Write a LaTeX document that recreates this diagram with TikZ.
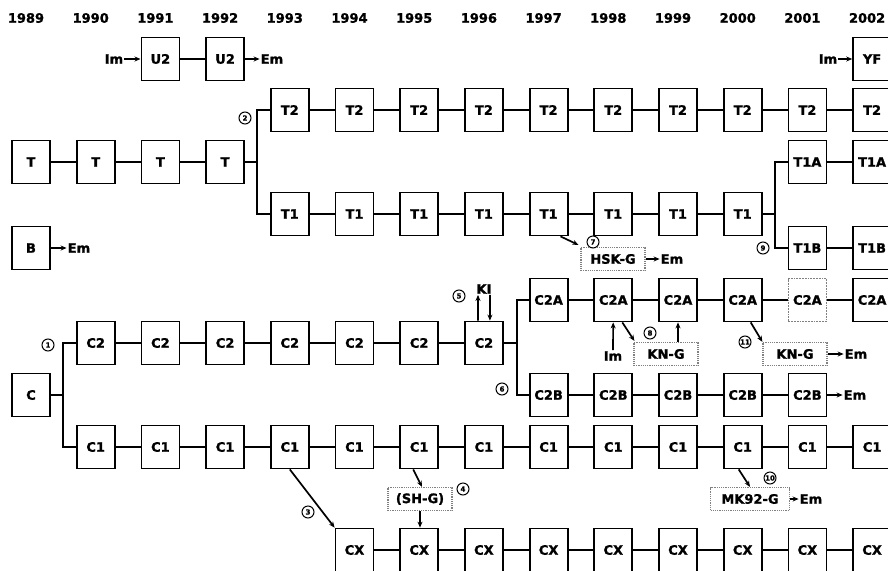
\documentclass[tikz,border=0pt]{standalone}
\usepackage{fontspec}
\setmainfont{DejaVu Sans}[BoldFeatures={FakeBold=1.2}]
\usetikzlibrary{arrows.meta,positioning}
\tikzset{
  yrbox/.style={draw,line width=1.8pt,minimum width=38pt,minimum height=43pt,inner sep=0pt,font=\fontsize{13}{15}\selectfont\bfseries},
  lostbox/.style={yrbox,draw=gray,densely dotted,line width=1.2pt},
  gene/.style={draw=gray,densely dotted,line width=1.2pt,minimum width=64pt,minimum height=23pt,inner sep=2pt,font=\fontsize{13}{15}\selectfont\bfseries},
  lbl/.style={inner sep=1pt,font=\fontsize{13}{15}\selectfont\bfseries},
  num/.style={circle,draw,line width=1pt,inner sep=0pt,minimum size=12pt,font=\fontsize{7}{8}\selectfont\bfseries},
  link/.style={line width=1.7pt},
  arr/.style={link,-{Stealth[length=6pt,width=5pt]}}
}
\newcommand{\boxrow}[5]{% name, label, y, first year, last year
  \foreach \yr in {#4,...,#5} {\node[yrbox] (#1-\yr) at ({31+64.7*(\yr-1989)},#3) {#2};}
  \foreach \yr [evaluate=\yr as \nx using int(\yr+1)] in {#4,...,#5} {\ifnum\yr<#5 \draw[link] (#1-\yr) -- (#1-\nx);\fi}
}

\begin{document}
\begin{tikzpicture}[x=1pt,y=-1pt]
  \useasboundingbox (0,0) rectangle (888,570);
  \foreach \yr in {1989,...,2002} {\node[lbl] (yr-\yr) at ({26+64.7*(\yr-1989)},18) {\yr};}

  % U2 and YF
  \boxrow{u2}{U2}{59}{1991}{1992}
  \node[lbl] (im-u2) at (114,59) {Im};
  \node[lbl] (em-u2) at (272,59) {Em};
  \draw[arr] (im-u2) -- (u2-1991);
  \draw[arr] (u2-1992) -- (em-u2);
  \boxrow{yf}{YF}{59}{2002}{2002}
  \node[lbl] (im-yf) at (828,59) {Im};
  \draw[arr] (im-yf) -- (yf-2002);

  % T lines
  \boxrow{t}{T}{162}{1989}{1992}
  \boxrow{t2}{T2}{110}{1993}{2002}
  \boxrow{t1}{T1}{214}{1993}{2000}
  \boxrow{t1a}{T1A}{162}{2001}{2002}
  \boxrow{t1b}{T1B}{248}{2001}{2002}
  \coordinate (sp2) at (257,162);
  \draw[link] (t-1992) -- (sp2);
  \draw[link] (t2-1993.west) -| (sp2) |- (t1-1993.west);
  \coordinate (sp9) at (775,214);
  \draw[link] (t1-2000) -- (sp9);
  \draw[link] (t1a-2001.west) -| (sp9) |- (t1b-2001.west);
  \node[gene] (hsk) at (613,259) {HSK-G};
  \node[lbl] (em-hsk) at (672,259) {Em};
  \draw[arr] ([xshift=-8pt]t1-1997.south east) -- ([xshift=-2pt,yshift=2pt]hsk.north west);
  \draw[arr] (hsk) -- (em-hsk);

  % B
  \boxrow{b}{B}{248}{1989}{1989}
  \node[lbl] (em-b) at (79,248) {Em};
  \draw[arr] (b-1989) -- (em-b);

  % C lines
  \boxrow{c}{C}{395}{1989}{1989}
  \boxrow{c2}{C2}{343}{1990}{1996}
  \boxrow{c1}{C1}{447}{1990}{2002}
  \coordinate (sp1) at (63,395);
  \draw[link] (c-1989) -- (sp1);
  \draw[link] (c2-1990.west) -| (sp1) |- (c1-1990.west);
  \node[lbl] (ki) at (484,289) {KI};
  \draw[arr] ([xshift=-6pt]c2-1996.north) -- ([xshift=-6pt]ki.south);
  \draw[arr] ([xshift=6pt]ki.south) -- ([xshift=6pt]c2-1996.north);

  \boxrow{c2a}{C2A}{300}{1997}{2000}
  \node[lostbox] (c2a-2001) at ({31+64.7*12},300) {C2A};
  \node[yrbox] (c2a-2002) at ({31+64.7*13},300) {C2A};
  \draw[link] (c2a-2000) -- (c2a-2001) -- (c2a-2002);
  \boxrow{c2b}{C2B}{395}{1997}{2001}
  \coordinate (sp6) at (517,343);
  \draw[link] (c2-1996) -- (sp6);
  \draw[link] (c2a-1997.west) -| (sp6) |- (c2b-1997.west);
  \node[lbl] (em-c2b) at (855,395) {Em};
  \draw[arr] (c2b-2001) -- (em-c2b);

  \node[lbl] (im-c2a) at (613,356) {Im};
  \draw[arr] (im-c2a) -- (c2a-1998);
  \node[gene] (kng1) at (666,354) {KN-G};
  \draw[arr] ([xshift=9pt]c2a-1998.south) -- ([xshift=1pt,yshift=1pt]kng1.north west);
  \draw[arr] (kng1.north -| c2a-1999.south) -- (c2a-1999.south);
  \node[gene] (kng2) at (795,354) {KN-G};
  \node[lbl] (em-kng) at (856,354) {Em};
  \draw[arr] ([xshift=8pt]c2a-2000.south) -- (kng2.north west);
  \draw[arr] (kng2) -- (em-kng);

  \boxrow{cx}{CX}{550}{1994}{2002}
  \draw[arr] (c1-1993.south) -- (cx-1994.north west);
  \node[gene] (sh) at (420,499) {(SH-G)};
  \draw[arr] ([xshift=-6pt]c1-1995.south) -- ([xshift=2pt]sh.north);
  \draw[arr] (sh.south) -- (sh.south |- cx-1995.north);
  \node[gene,minimum width=79pt] (mk) at (750,499) {MK92-G};
  \node[lbl] (em-mk) at (811,499) {Em};
  \draw[arr] ([xshift=-4pt]c1-2000.south) -- (mk.north);
  \draw[arr] (mk) -- (em-mk);

  % event numbers
  \node[num] (n1) at (48,345) {1};
  \node[num] (n2) at (245,118) {2};
  \node[num] (n3) at (308,512) {3};
  \node[num] (n4) at (463,489) {4};
  \node[num] (n5) at (459,296) {5};
  \node[num] (n6) at (502,389) {6};
  \node[num] (n7) at (593,242) {7};
  \node[num] (n8) at (650,333) {8};
  \node[num] (n9) at (763,248) {9};
  \node[num] (n10) at (770,478) {10};
  \node[num] (n11) at (745,342) {11};
\end{tikzpicture}
\end{document}
